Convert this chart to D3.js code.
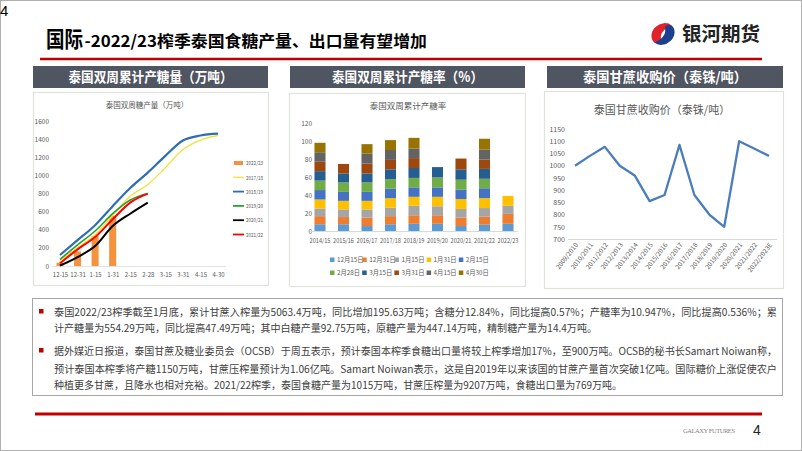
<!DOCTYPE html>
<html><head><meta charset="utf-8">
<script src="https://cdn.jsdelivr.net/npm/d3@7"></script>
<style>
html,body{margin:0;padding:0;background:#fff;}
svg{display:block;font-family:"Noto Sans CJK SC","Noto Sans",sans-serif;}
</style></head>
<body>
<svg id="c" width="802" height="451"></svg>
<script>
// ---------- data ----------
const leftPeriods = ["12-15","12-31","1-15","1-31","2-15","2-28","3-15","3-31","4-15","4-30"];
const leftSeriesNames = ["2022/23","2017/18","2018/19","2019/20","2020/21","2021/22"];
const prod2223 = [36, 160, 330, 554];
const prod1718 = [60, 200, 345, 560, 770, 900, 1085, 1285, 1390, 1440];
const prod1819 = [121, 285, 450, 660, 860, 1030, 1215, 1385, 1440, 1460];
const prod1920 = [74, 232, 386, 577, 728, 800];
const prod2021 = [5, 99, 220, 441, 577, 699];
const prod2122 = [30, 184, 320, 515, 699, 798];
const leftTicks = [0,200,400,600,800,1000,1200,1400,1600];

const rateYears = ["2014/15","2015/16","2016/17","2017/18","2018/19","2019/20","2020/21","2021/22","2022/23"];
const ratePeriods = ["12月15日","12月31日","1月15日","1月31日","2月15日","2月28日","3月15日","3月31日","4月15日","4月30日"];
const rDec15 = [7.5, 7.5, 5.5, 7.5, 8, 8, 5.5, 7, 8];
const rDec31 = [9, 8, 9.5, 9, 9.5, 9.5, 9.5, 9, 11];
const rJan15 = [8.5, 8.5, 9, 9.5, 10.5, 10, 9.5, 9.5, 9];
const rJan31 = [10, 9.5, 9.5, 10.5, 10, 10.5, 11, 11, 11];
const rFeb15 = [10.5, 10, 10, 10.5, 10.5, 10.5, 10.5, 11, 0];
const rFeb28 = [10.5, 10.5, 10.5, 10.5, 10.5, 11, 11, 10.5, 0];
const rMar15 = [10.5, 10, 10, 11, 11, 11.5, 11.5, 11, 0];
const rMar31 = [10.5, 10.5, 11, 10.5, 11, 0, 12, 10.5, 0];
const rApr15 = [10.5, 0, 11, 11, 10.5, 0, 0, 11, 0];
const rApr30 = [10.5, 0, 10.5, 11, 12, 0, 0, 12, 0];
const rateTicks = [0,20,40,60,80,100,120];

const priceYears = ["2009/2010","2010/2011","2011/2012","2012/2013","2013/2014","2014/2015","2015/2016","2016/2017","2017/2018","2018/2019","2019/2020","2020/2021","2021/2022","2022/2023E"];
const priceValues = [1000, 1040, 1077, 1000, 960, 855, 880, 1085, 880, 800, 750, 1100, 1070, 1040];
const priceTicks = [700,750,800,850,900,950,1000,1050,1100,1150];

const textLines = [
 {t:"泰国2022/23榨季截至1月底，累计甘蔗入榨量为5063.4万吨，同比增加195.63万吨；含糖分12.84%，同比提高0.57%；产糖率为10.947%，同比提高0.536%；累", end:777, bullet:true, fs:10.5},
 {t:"计产糖量为554.29万吨，同比提高47.49万吨；其中白糖产量92.75万吨，原糖产量为447.14万吨，精制糖产量为14.4万吨。", end:597, fs:10.5},
 {t:"据外媒近日报道，泰国甘蔗及糖业委员会（OCSB）于周五表示，预计泰国本榨季食糖出口量将较上榨季增加17%，至900万吨。OCSB的秘书长Samart Noiwan称，", end:777, bullet:true, fs:10},
 {t:"预计泰国本榨季将产糖1150万吨，甘蔗压榨量预计为1.06亿吨。Samart Noiwan表示，这是自2019年以来该国的甘蔗产量首次突破1亿吨。国际糖价上涨促使农户", end:777, fs:10.5},
 {t:"种植更多甘蔗，且降水也相对充裕。2021/22榨季，泰国食糖产量为1015万吨，甘蔗压榨量为9207万吨，食糖出口量为769万吨。", end:622, fs:10.5}
];

// ---------- frame ----------
const svg = d3.select("#c");
const gray = "#595959";
const fmt = d3.format("d");
svg.append("rect").attr("x",0.5).attr("y",0.5).attr("width",801).attr("height",450)
  .attr("fill","#fff").attr("stroke","#b0b0b0");
svg.append("text").attr("x",0).attr("y",16).attr("font-family","Liberation Sans")
  .attr("font-size",15).attr("fill","#000").text("4");

// title
svg.append("text").attr("x",46).attr("y",47).attr("font-size",22).attr("font-weight","bold")
  .attr("fill","#000").attr("textLength",37).attr("lengthAdjust","spacingAndGlyphs").text("国际");
svg.append("text").attr("x",84.5).attr("y",47).attr("font-size",16).attr("font-weight","bold")
  .attr("fill","#000").attr("textLength",342.5).attr("lengthAdjust","spacingAndGlyphs")
  .text("-2022/23榨季泰国食糖产量、出口量有望增加");

// logo
const logo = svg.append("g").attr("transform","translate(663,34) rotate(-35)");
logo.append("path").attr("d","M-12,2 A12,10 0 0 1 12,-2 C4,-4 -2,-2 -4,2 C-6,6 -9,6 -12,2 Z").attr("fill","#e0222b");
logo.append("path").attr("d","M12,-2 A12,10 0 0 1 -12,2 C-4,4 2,2 4,-2 C6,-6 9,-6 12,-2 Z").attr("fill","#1d3f8f");
svg.append("text").attr("x",682).attr("y",41).attr("font-size",19).attr("font-weight","bold")
  .attr("fill","#222").attr("textLength",78).attr("lengthAdjust","spacingAndGlyphs").text("银河期货");

svg.append("line").attr("x1",40).attr("x2",762).attr("y1",59).attr("y2",59)
  .attr("stroke","#c00000").attr("stroke-width",2.5);

// header boxes
const heads = [
  {x:33,w:235,t:"泰国双周累计产糖量（万吨）",tl:164},
  {x:290,w:235,t:"泰国双周累计产糖率（%）",tl:151},
  {x:547,w:236,t:"泰国甘蔗收购价（泰铢/吨）",tl:164}
];
heads.forEach(h=>{
  svg.append("rect").attr("x",h.x).attr("y",66).attr("width",h.w).attr("height",22).attr("fill","#4f5561");
  svg.append("text").attr("x",h.x+h.w/2).attr("y",82).attr("text-anchor","middle")
    .attr("font-size",14).attr("font-weight","bold").attr("fill","#fff")
    .attr("textLength",h.tl).attr("lengthAdjust","spacingAndGlyphs").text(h.t);
});

// panels
[[33,92,235,193],[289,93,236,193],[544,91,239,197]].forEach(p=>{
  svg.append("rect").attr("x",p[0]+0.5).attr("y",p[1]+0.5).attr("width",p[2]).attr("height",p[3])
    .attr("fill","#fff").attr("stroke","#dfe3dc").attr("stroke-width",1.2);
});

// ---------- left chart ----------
{
  const x = d3.scalePoint().domain(leftPeriods).range([60,218]);
  const y = d3.scaleLinear().domain([0,1600]).range([266,121]);
  const g = svg.append("g");
  g.append("text").attr("x",147).attr("y",108).attr("text-anchor","middle").attr("font-size",7.5)
    .attr("fill",gray).text("泰国双周糖产量（万吨）");
  const ya = d3.axisLeft(y).tickValues(leftTicks).tickFormat(fmt).tickSize(0).tickPadding(0);
  const yg = g.append("g").attr("transform","translate(49,0)").call(ya);
  yg.select(".domain").remove();
  yg.selectAll("text").attr("font-size",6.5).attr("fill",gray).attr("font-family","Noto Sans CJK SC");
  const xa = d3.axisBottom(x).tickSize(0).tickPadding(7);
  const xg = g.append("g").attr("transform","translate(0,266)").call(xa);
  xg.select(".domain").attr("stroke","#e3e3e3").attr("d","M52,0.5H226");
  xg.selectAll("text").attr("font-size",6).attr("fill",gray).attr("font-family","Noto Sans CJK SC");

  g.selectAll(".bar").data(prod2223).join("rect")
    .attr("x",(d,i)=>x(leftPeriods[i])-3.5).attr("width",7)
    .attr("y",d=>y(d)).attr("height",d=>y(0)-y(d)).attr("fill","#f5923e");

  const line = d3.line().x((d,i)=>x(leftPeriods[i])).y(d=>y(d)).curve(d3.curveMonotoneX);
  const series = [
    {d:prod1718,c:"#f3e23c",w:1.3},
    {d:prod1819,c:"#2f6db3",w:2.2},
    {d:prod1920,c:"#2ca02c",w:1.6},
    {d:prod2021,c:"#000000",w:2},
    {d:prod2122,c:"#ff0000",w:2}
  ];
  series.forEach(s=>{
    g.append("path").attr("d",line(s.d)).attr("fill","none").attr("stroke",s.c).attr("stroke-width",s.w);
  });
  const legC = ["#f5923e","#f3e23c","#2f6db3","#2ca02c","#000000","#ff0000"];
  leftSeriesNames.forEach((n,i)=>{
    const ly = 163 + i*14.3;
    if(i===0){
      g.append("rect").attr("x",234).attr("y",ly-2).attr("width",9).attr("height",4).attr("fill",legC[i]);
    } else {
      g.append("line").attr("x1",233).attr("x2",244).attr("y1",ly).attr("y2",ly)
        .attr("stroke",legC[i]).attr("stroke-width",i===1?1.3:1.8);
    }
    g.append("text").attr("x",246).attr("y",ly+2.2).attr("font-size",5.5).attr("fill",gray)
      .attr("textLength",17).attr("lengthAdjust","spacingAndGlyphs").text(n);
  });
}

// ---------- middle chart ----------
{
  const x = d3.scaleBand().domain(rateYears).range([308.25,519.75]).paddingInner(0.53).paddingOuter(0.265);
  const y = d3.scaleLinear().domain([0,120]).range([231,123]);
  const g = svg.append("g");
  g.append("text").attr("x",408).attr("y",109).attr("text-anchor","middle").attr("font-size",8.5)
    .attr("fill",gray).text("泰国双周累计产糖率");
  const yg = g.append("g").attr("transform","translate(312,0)")
    .call(d3.axisLeft(y).tickValues(rateTicks).tickFormat(fmt).tickSize(0).tickPadding(0));
  yg.select(".domain").remove();
  yg.selectAll("text").attr("font-size",6.5).attr("fill",gray).attr("font-family","Noto Sans CJK SC");
  const xg = g.append("g").attr("transform","translate(0,231)")
    .call(d3.axisBottom(x).tickSize(0).tickPadding(8));
  xg.select(".domain").attr("d","M310,0.5H518").attr("stroke","#d9d9d9");
  xg.selectAll("text").attr("font-size",6).attr("fill",gray).attr("font-family","Noto Sans CJK SC")
    .attr("textLength",21).attr("lengthAdjust","spacingAndGlyphs");

  const cols = ["#5b9bd5","#ed7d31","#a5a5a5","#ffc000","#4472c4","#70ad47","#255e91","#9e480e","#636363","#997300"];
  const arrs = [rDec15,rDec31,rJan15,rJan31,rFeb15,rFeb28,rMar15,rMar31,rApr15,rApr30];
  const rows = rateYears.map((yr,j)=>{ const o={year:yr}; ratePeriods.forEach((p,k)=>o[p]=arrs[k][j]); return o; });
  const stack = d3.stack().keys(ratePeriods)(rows);
  stack.forEach((layer,k)=>{
    g.append("g").selectAll("rect").data(layer.filter(d=>d[1]-d[0]>0)).join("rect")
      .attr("x",d=>x(d.data.year)).attr("width",x.bandwidth())
      .attr("y",d=>y(d[1])).attr("height",d=>y(d[0])-y(d[1])).attr("fill",cols[k]);
  });
  ratePeriods.forEach((p,k)=>{
    const lx = 330 + (k%5)*32.2, ly = k<5 ? 260 : 273;
    g.append("rect").attr("x",lx).attr("y",ly-2.5).attr("width",4.5).attr("height",4.5).attr("fill",cols[k]);
    g.append("text").attr("x",lx+7).attr("y",ly+2.3).attr("font-size",6.3).attr("fill",gray).text(p);
  });
}

// ---------- right chart ----------
{
  const x = d3.scalePoint().domain(priceYears).range([575,769]);
  const y = d3.scaleLinear().domain([700,1150]).range([239,129]);
  const g = svg.append("g");
  g.append("text").attr("x",662).attr("y",114).attr("text-anchor","middle").attr("font-size",11)
    .attr("fill",gray).text("泰国甘蔗收购价（泰铢/吨）");
  const yg = g.append("g").attr("transform","translate(565,0)")
    .call(d3.axisLeft(y).tickValues(priceTicks).tickFormat(fmt).tickSize(0).tickPadding(0));
  yg.select(".domain").remove();
  yg.selectAll("text").attr("font-size",7).attr("fill",gray).attr("font-family","Noto Sans CJK SC");
  const xg = g.append("g").attr("transform","translate(0,239)")
    .call(d3.axisBottom(x).tickSize(0).tickPadding(0));
  xg.select(".domain").attr("d","M568,0.5H777").attr("stroke","#d9d9d9");
  xg.selectAll("text").attr("font-size",6.5).attr("fill",gray).attr("font-family","Noto Sans CJK SC")
    .attr("text-anchor","end").attr("dy",0).attr("transform","translate(3,6) rotate(-52)");
  g.append("path").attr("d",d3.line().x((d,i)=>x(priceYears[i])).y(d=>y(d))(priceValues))
    .attr("fill","none").attr("stroke","#4a7ebb").attr("stroke-width",2.3).attr("stroke-linejoin","round");
}

// ---------- text box ----------
svg.append("rect").attr("x",32.5).attr("y",298.5).attr("width",750).attr("height",97)
  .attr("fill","#fff").attr("stroke","#a6a6a6").attr("stroke-width",1);
const lineY = [316, 332, 355, 373, 389];
textLines.forEach((l,i)=>{
  if(l.bullet){
    svg.append("rect").attr("x",39).attr("y",lineY[i]-7).attr("width",4.5).attr("height",4.5).attr("fill","#c00000");
  }
  svg.append("text").attr("x",54).attr("y",lineY[i]).attr("font-size",l.fs).attr("fill","#404040")
    .attr("textLength",l.end-54).attr("lengthAdjust","spacingAndGlyphs").text(l.t);
});

// footer
svg.append("line").attr("x1",35).attr("x2",762).attr("y1",414).attr("y2",414)
  .attr("stroke","#c00000").attr("stroke-width",3);
svg.append("text").attr("x",683).attr("y",433).attr("font-family","Liberation Serif").attr("font-size",6.5)
  .attr("fill","#7f7f7f").attr("textLength",52).text("GALAXY FUTURES");
svg.append("text").attr("x",753).attr("y",435).attr("font-family","Liberation Sans").attr("font-size",14)
  .attr("fill","#222").text("4");
</script>
</body></html>
